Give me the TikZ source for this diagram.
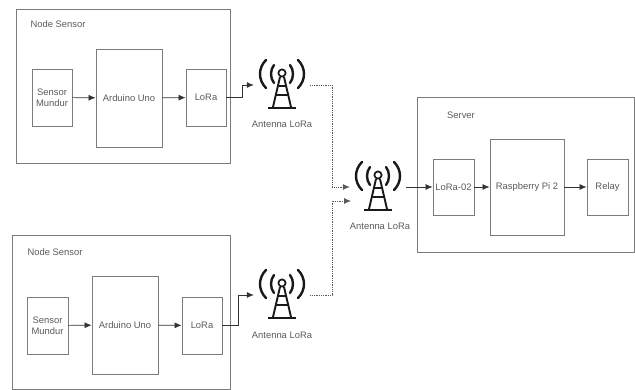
\documentclass[tikz,border=0pt]{standalone}
\usepackage{fontspec}
\setmainfont{Liberation Sans}
\usetikzlibrary{arrows.meta}
\definecolor{edgegray}{HTML}{7C7C7C}
\definecolor{textgray}{HTML}{5A5A5A}
\tikzset{
  box/.style={draw=edgegray,line width=.9pt,fill=white,inner sep=0pt,align=center,text=textgray,font=\fontsize{9.4}{11}\selectfont},
  outerbox/.style={draw=edgegray,line width=.9pt,inner sep=0pt},
  caption text/.style={text=textgray,font=\fontsize{9.4}{11}\selectfont,inner sep=0pt},
  link/.style={draw=black!80,line width=.7pt,-{Latex[length=7pt,width=6pt]}},
  radio/.style={draw=black!65,line width=.8pt,densely dotted},
  radioend/.style={radio,-{Latex[length=7pt,width=6pt]}},
  anthold/.style={minimum width=56pt,minimum height=50pt,inner sep=0pt},
  pics/tower/.style={code={
    \draw[black!90,line width=2.4pt,line cap=round]
      (-16,-25) .. controls (-24,-17) and (-24,-5) .. (-16,3)
      (16,-25) .. controls (24,-17) and (24,-5) .. (16,3)
      (-8,-20) .. controls (-12,-15) and (-12,-7) .. (-8,-2)
      (8,-20) .. controls (12,-15) and (12,-7) .. (8,-2);
    \draw[black!90,line width=1.7pt] (0,-12) circle[radius=3.6];
    \draw[black!90,line width=1.9pt,line join=round]
      (-2,-8) -- (-9,22) (2,-8) -- (9,22)
      (-4,1) -- (4,1) (-6,10) -- (6,10);
    \draw[black!90,line width=2.5pt] (-14,23) -- (14,23);
  }}
}
\begin{document}
\begin{tikzpicture}[x=1pt,y=-1pt]
\useasboundingbox (0,0) rectangle (635,390);
% outer frames
\node[outerbox,minimum width=214pt,minimum height=154pt] (frameA) at (123,86) {};
\node[outerbox,minimum width=218pt,minimum height=154pt] (frameB) at (121,312) {};
\node[outerbox,minimum width=217pt,minimum height=155pt] (frameC) at (525.5,174.5) {};
\node[caption text] (titleA) at (58,24.5) {Node Sensor};
\node[caption text] (titleB) at (55,252.5) {Node Sensor};
\node[caption text] (titleC) at (461,115) {Server};
% top group
\node[box,minimum width=40pt,minimum height=57pt] (sensA) at (52,97.5) {Sensor\\Mundur};
\node[box,minimum width=66pt,minimum height=98pt] (unoA) at (129,98) {Arduino Uno};
\node[box,minimum width=40pt,minimum height=57pt] (loraA) at (206,97.5) {LoRa};
% bottom group
\node[box,minimum width=41pt,minimum height=57pt] (sensB) at (47.5,325.5) {Sensor\\Mundur};
\node[box,minimum width=66pt,minimum height=98pt] (unoB) at (125,325) {Arduino Uno};
\node[box,minimum width=40pt,minimum height=57pt] (loraB) at (202,325.5) {LoRa};
% server group
\node[box,minimum width=41pt,minimum height=56pt] (loraC) at (453.5,187) {LoRa-02};
\node[box,minimum width=74pt,minimum height=96pt] (rpi) at (527,187) {Raspberry Pi 2};
\node[box,minimum width=41pt,minimum height=56pt] (relay) at (607.5,187) {Relay};
% antennas
\node[anthold] (antA) at (282,85) {};
\node[anthold] (antB) at (282,295) {};
\node[anthold] (antC) at (378,187) {};
\pic at (antA.center) {tower};
\pic at (antB.center) {tower};
\pic at (antC.center) {tower};
\node[caption text] (capA) at (282,124) {Antenna LoRa};
\node[caption text] (capB) at (282,335) {Antenna LoRa};
\node[caption text] (capC) at (380,226) {Antenna LoRa};
\coordinate (antCb) at (351,201);
\coordinate (busA) at (332,85);
\coordinate (busB) at (332,295);
% connectors
\draw[link] (sensA) -- (unoA);
\draw[link] (unoA) -- (loraA);
\draw[link] (sensB) -- (unoB);
\draw[link] (unoB) -- (loraB);
\draw[link] (loraC) -- (rpi);
\draw[link] (rpi) -- (relay);
\draw[link] (antC.east) -- (loraC.west);
\draw[link] (loraA.east) -- ++(16,0) |- (antA.west);
\draw[link] (loraB.east) -- ++(16,0) |- (antB.west);
\draw[radioend] (antA.east) -- (busA) |- (antC.west);
\draw[radioend] (antB.east) -- (busB) |- (antCb);
\end{tikzpicture}
\end{document}
